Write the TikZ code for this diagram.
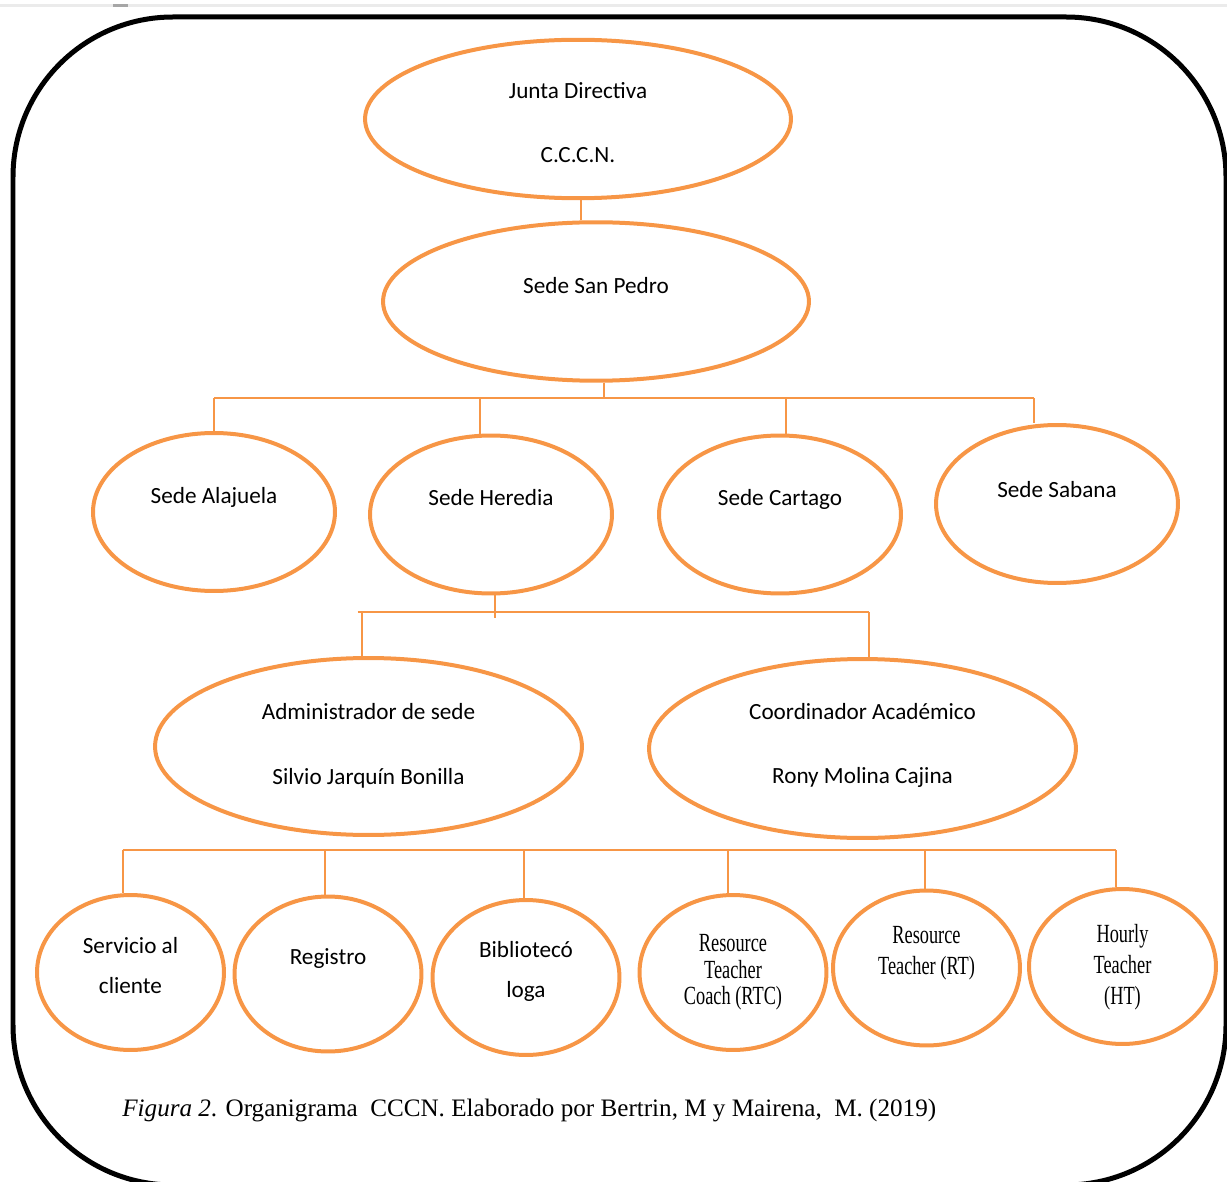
\documentclass[tikz,border=0pt]{standalone}
\usepackage{fontspec}
\usepackage{tikz}
\usetikzlibrary{shapes.geometric, positioning}
\newfontfamily\orgsans{Carlito}
\newfontfamily\orgcond[FakeStretch=0.7]{Liberation Serif}
\newfontfamily\orgserif{Liberation Serif}
\definecolor{orgorange}{RGB}{247,150,70}
\tikzset{
unit/.style={ellipse, draw=orgorange, line width=0.08cm, inner sep=0pt},
big/.style={unit, minimum width=8.52cm, minimum height=3.17cm},
sede/.style={unit, minimum width=4.84cm, minimum height=3.16cm},
staff/.style={unit, minimum width=3.74cm, minimum height=3.1cm},
txt/.style={font=\orgsans\fontsize{13.2}{15.8}\selectfont, align=center, inner sep=0pt},
cond/.style={font=\orgcond\fontsize{14.9}{17.6}\selectfont, align=center, inner sep=0pt},
link/.style={draw=orgorange, line width=0.04cm}
}

\begin{document}
\begin{tikzpicture}[x=0.02cm, y=-0.02cm]
\useasboundingbox (0,0) rectangle (1227,1182);
\draw[black!8, line width=0.06cm] (0,6) -- (1227,6);
\draw[black!35, line width=0.06cm] (113,6) -- (128,6);
\draw[line width=0.1cm, rounded corners=3.2cm] (13,17) rectangle (1226,1185);

% top levels
\node[big, label={[txt, shift={(0,3.5)}]center:{Junta Directiva\\[21pt]C.C.C.N.}}] (junta) at (578,119) {};
\node[big, label={[txt, shift={(0,-15.5)}]center:Sede San Pedro}] (sanpedro) at (596,301.5) {};

% sedes
\node[sede, label={[txt, shift={(0,-15)}]center:Sede Alajuela}] (alajuela) at (214,512) {};
\node[sede, label={[txt, shift={(0,-16.5)}]center:Sede Heredia}] (heredia) at (491,514.5) {};
\node[sede, label={[txt, shift={(0,-15.5)}]center:Sede Cartago}] (cartago) at (780,514.5) {};
\node[sede, label={[txt, shift={(0,-14)}]center:Sede Sabana}] (sabana) at (1057,504) {};

% Heredia
\node[big, minimum width=8.54cm, minimum height=3.54cm, label={[txt, shift={(0,-1)}]center:{Administrador de sede\\[21pt]Silvio Jarquín Bonilla}}] (admin) at (368.5,746.5) {};
\node[big, minimum width=8.54cm, minimum height=3.58cm, label={[txt, shift={(0,-3)}]center:{Coordinador Académico\\[21pt]Rony Molina Cajina}}] (coord) at (862.5,748.5) {};

% staff
\node[staff, label={[txt, shift={(0,-7)}]center:{Servicio al\\[7.4pt]cliente}}] (servicio) at (130.5,972.5) {};
\node[staff, label={[txt, shift={(0,-15)}]center:Registro}] (registro) at (328,974) {};
\node[staff, label={[txt, shift={(0,-6)}]center:{Bibliotecó\\[7.4pt]loga}}] (biblio) at (526,977.5) {};
\node[staff, label={[cond, shift={(0,0)}]center:{Resource\\[-2.6pt]Teacher\\[-2.6pt]Coach (RTC)}}] (rtc) at (733,972.5) {};
\node[staff, label={[cond, shift={(0,-14.5)}]center:{Resource\\Teacher (RT)}}] (rt) at (926.5,968) {};
\node[staff, label={[cond, shift={(0,1)}]center:{Hourly\\Teacher\\(HT)}}] (ht) at (1122.5,966.5) {};

\coordinate (bus1) at (0,398);
\coordinate (bus2) at (0,612);
\coordinate (bus3) at (0,850);

\draw[link] ([shift={(3,0)}]junta.south) -- ([shift={(3,0)}]junta.south |- sanpedro.north);
\draw[link] ([shift={(8,0)}]sanpedro.south) -- ([shift={(8,0)}]sanpedro.south |- bus1);
\draw[link] (alajuela.north |- bus1) -- ([shift={(-23,0)}]sabana.north |- bus1);
\draw[link] (alajuela.north |- bus1) -- (alajuela.north);
\draw[link] ([shift={(-11,0)}]heredia.north |- bus1) -- ([shift={(-11,0)}]heredia.north);
\draw[link] ([shift={(6,0)}]cartago.north |- bus1) -- ([shift={(6,0)}]cartago.north);
\draw[link] ([shift={(-23,0)}]sabana.north |- bus1) -- ([shift={(-23,0)}]sabana.north);

\draw[link] ([shift={(4,0)}]heredia.south) -- ([shift={(4,6)}]heredia.south |- bus2);
\draw[link] ([shift={(-11,0)}]admin.north |- bus2) -- ([shift={(6,0)}]coord.north |- bus2);
\draw[link] ([shift={(-7,0)}]admin.north |- bus2) -- ([shift={(-7,0)}]admin.north);
\draw[link] ([shift={(6,0)}]coord.north |- bus2) -- ([shift={(6,0)}]coord.north);

\draw[link] ([shift={(-8,0)}]servicio.north |- bus3) -- ([shift={(-7,0)}]ht.north |- bus3);
\draw[link] ([shift={(-8,0)}]servicio.north |- bus3) -- ([shift={(-8,0)}]servicio.north);
\draw[link] ([shift={(-3,0)}]registro.north |- bus3) -- ([shift={(-3,0)}]registro.north);
\draw[link] ([shift={(-2,0)}]biblio.north |- bus3) -- ([shift={(-2,0)}]biblio.north);
\draw[link] ([shift={(-5,0)}]rtc.north |- bus3) -- ([shift={(-5,0)}]rtc.north);
\draw[link] ([shift={(-2,0)}]rt.north |- bus3) -- ([shift={(-2,0)}]rt.north);
\draw[link] ([shift={(-7,0)}]ht.north |- bus3) -- ([shift={(-7,0)}]ht.north);

\node[anchor=west, inner sep=0pt, font=\orgserif\fontsize{14.3}{16}\selectfont] (caption) at (122,1110) {\textit{Figura 2}. Organigrama\ \ CCCN. Elaborado por Bertrin, M y Mairena,\ \ M. (2019)};
\end{tikzpicture}
\end{document}
